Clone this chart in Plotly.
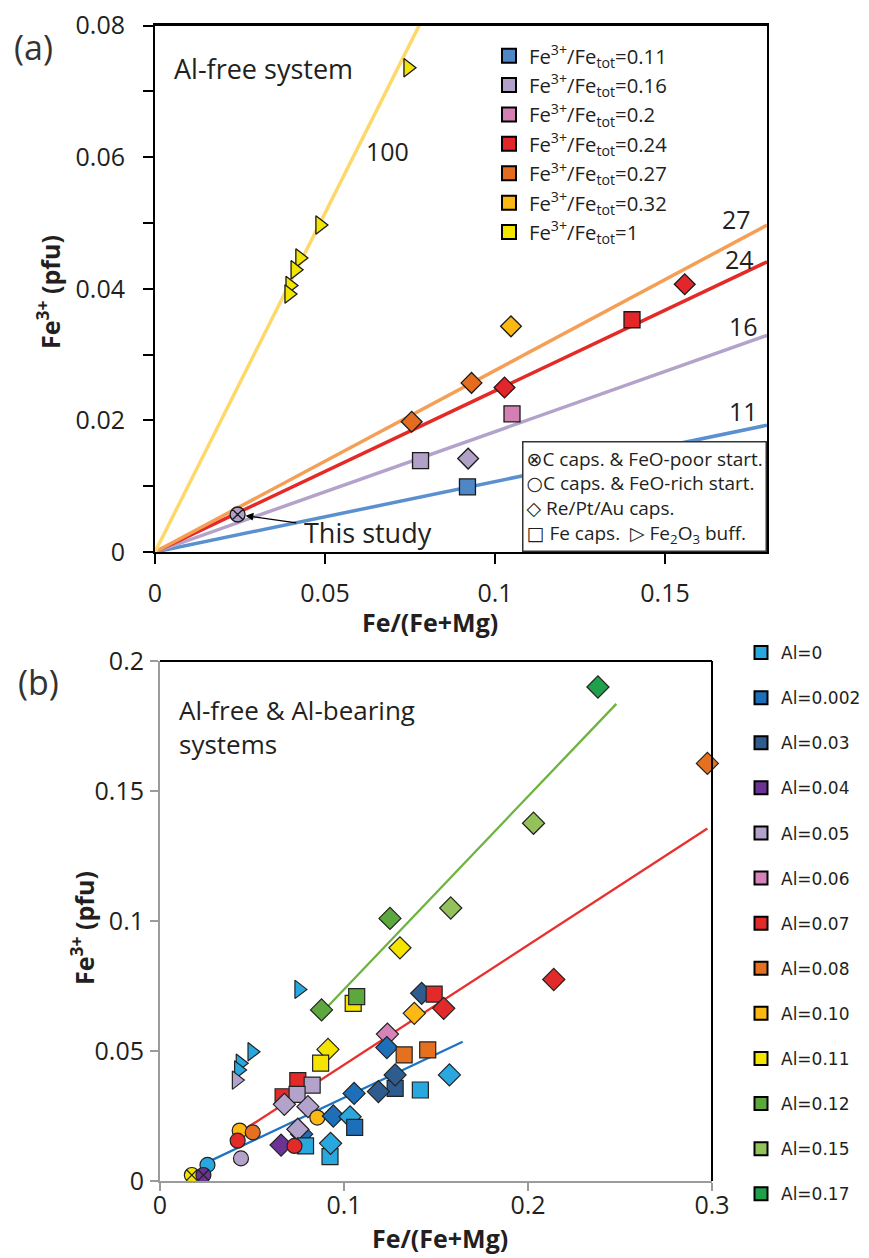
import plotly.graph_objects as go

# page is 869x1258; the html body adds an 8px margin, so the figure is 861x1250
OFF = 8
W, H = 869 - OFF, 1258 - OFF

# ---------------- Panel (a) data ----------------
a_ratio_labels = ["0.11", "0.16", "0.2", "0.24", "0.27", "0.32", "1"]
a_colors = ["#4F86C6", "#B1A0C7", "#D47FB4", "#E3262A", "#E46C1F", "#FBB714", "#F2E600"]

a_line_slopes = [0.107, 0.183, 0.245, 0.276, 1.03]
a_line_colors = ["#5A8FD0", "#B3A3CA", "#E42A26", "#F59E55", "#FDD86A"]
a_line_labels = ["11", "16", "24", "27", "100"]
a_x_max = 0.18

a_x = [0.0919, 0.0781, 0.0921, 0.0243, 0.105, 0.1028, 0.1403, 0.1558, 0.0755, 0.0931, 0.1047,
       0.0744, 0.0485, 0.0426, 0.0412, 0.0397, 0.0394]
a_y = [0.0099, 0.0139, 0.0142, 0.0057, 0.0210, 0.0250, 0.0353, 0.0407, 0.0198, 0.0257, 0.0343,
       0.0736, 0.0497, 0.0447, 0.0429, 0.0405, 0.0392]
a_idx = [0, 1, 1, 1, 2, 3, 3, 3, 4, 4, 5, 6, 6, 6, 6, 6, 6]
a_sym = ["square", "square", "diamond", "circle-x", "square", "diamond", "square", "diamond",
         "diamond", "diamond", "diamond",
         "triangle-right", "triangle-right", "triangle-right", "triangle-right",
         "triangle-right", "triangle-right"]

# ---------------- Panel (b) data ----------------
b_al_labels = ["0", "0.002", "0.03", "0.04", "0.05", "0.06", "0.07", "0.08", "0.10", "0.11",
               "0.12", "0.15", "0.17"]
b_colors = ["#29A8E0", "#1C6FB8", "#2E5C8F", "#6B3494", "#B3A3CB", "#D583B9", "#E32A2A",
            "#E5701F", "#FDB813", "#F5E400", "#5DA83E", "#93C25A", "#20A04A"]

b_x = [0.0755, 0.0878, 0.1050, 0.1069, 0.1250, 0.1580, 0.1304, 0.1422, 0.1490, 0.1542,
       0.1382, 0.1236, 0.1233, 0.1327, 0.1455, 0.0500, 0.0436, 0.0427, 0.0415, 0.0913,
       0.0873, 0.1573, 0.1278, 0.1278, 0.1415, 0.1187, 0.1055, 0.0749, 0.0827, 0.0669,
       0.0745, 0.0676, 0.0804, 0.0855, 0.0942, 0.1033, 0.1058, 0.0770, 0.0749, 0.0658,
       0.0791, 0.0731, 0.0924, 0.0927, 0.0433, 0.0504, 0.0422, 0.0440, 0.0258, 0.0173,
       0.0236, 0.2380, 0.2975, 0.2030, 0.2140]
b_y = [0.0737, 0.0658, 0.0683, 0.0709, 0.1010, 0.1050, 0.0897, 0.0722, 0.0719, 0.0664,
       0.0645, 0.0565, 0.0513, 0.0485, 0.0504, 0.0497, 0.0453, 0.0427, 0.0388, 0.0506,
       0.0453, 0.0408, 0.0356, 0.0408, 0.0350, 0.0344, 0.0337, 0.0386, 0.0369, 0.0324,
       0.0333, 0.0295, 0.0286, 0.0244, 0.0250, 0.0247, 0.0206, 0.0180, 0.0199, 0.0138,
       0.0135, 0.0135, 0.0094, 0.0145, 0.0194, 0.0187, 0.0155, 0.0087, 0.0062, 0.0023,
       0.0023, 0.1900, 0.1606, 0.1376, 0.0775]
b_idx = [0, 10, 9, 10, 10, 11, 9, 2, 6, 6,
         8, 5, 1, 7, 7, 0, 0, 0, 4, 9,
         9, 0, 2, 2, 0, 2, 1, 6, 4, 6,
         4, 4, 4, 8, 1, 0, 1, 1, 4, 3,
         0, 6, 0, 0, 8, 7, 6, 4, 0, 9,
         3, 12, 7, 11, 6]
b_sym = ["triangle-right", "diamond", "square", "square", "diamond", "diamond", "diamond",
         "diamond", "square", "diamond",
         "diamond", "diamond", "diamond", "square", "square", "triangle-right",
         "triangle-right", "triangle-right", "triangle-right", "diamond",
         "square", "diamond", "square", "diamond", "square", "diamond", "diamond", "square",
         "square", "square",
         "square", "diamond", "diamond", "circle", "diamond", "diamond", "square", "diamond",
         "diamond", "diamond",
         "square", "circle", "square", "diamond", "circle", "circle", "circle", "circle",
         "circle", "circle-x",
         "circle-x", "diamond", "diamond", "diamond", "diamond"]

# regression lines in (b): slope, intercept, x-start, x-end
b_fit_slope = [0.742, 0.46, 0.334]
b_fit_icpt = [-0.0005, -0.0013, -0.0014]
b_fit_x0 = [0.0909, 0.0427, 0.0245]
b_fit_x1 = [0.248, 0.2975, 0.1645]
b_fit_colors = ["#6DB33F", "#E8312F", "#1F73C0"]


# ---------------- helpers (page pixels -> paper fraction) ----------------
def pxx(p):
    return (p - OFF) / W


def pxy(p):
    return 1 - (p - OFF) / H


FONT = "Open Sans"
TXT = "#231F20"

SIZE_A = {"square": 16, "diamond": 16, "circle-x": 15, "triangle-right": 16}
SIZE_B = {"square": 16, "diamond": 17, "circle": 15, "circle-x": 15, "triangle-right": 16}

fig = go.Figure()

# Panel (a) lines
for s, c in zip(a_line_slopes, a_line_colors):
    fig.add_trace(go.Scatter(x=[0, a_x_max], y=[0, s * a_x_max], mode="lines",
                             line=dict(color=c, width=3.5), showlegend=False,
                             hoverinfo="skip", xaxis="x", yaxis="y"))

# Panel (a) points
fig.add_trace(go.Scatter(
    x=a_x, y=a_y, mode="markers", showlegend=False, xaxis="x", yaxis="y",
    marker=dict(color=[a_colors[i] for i in a_idx], symbol=a_sym, opacity=1,
                size=[SIZE_A[s] for s in a_sym],
                line=dict(color="#1a1a1a", width=1.3)),
    cliponaxis=False))

# Panel (a) legend entries
for lab, c in zip(a_ratio_labels, a_colors):
    fig.add_trace(go.Scatter(
        x=[None], y=[None], mode="markers", xaxis="x", yaxis="y",
        name="Fe<sup>3+</sup>/Fe<sub>tot</sub>=" + lab, legend="legend",
        legendgroup="a" + lab,
        marker=dict(color=c, symbol="square", size=14, line=dict(color="black", width=2))))

# Panel (b) regression lines
for m, b0, x0, x1, c in zip(b_fit_slope, b_fit_icpt, b_fit_x0, b_fit_x1, b_fit_colors):
    fig.add_trace(go.Scatter(x=[x0, x1], y=[m * x0 + b0, m * x1 + b0], mode="lines",
                             line=dict(color=c, width=2.3), showlegend=False,
                             hoverinfo="skip", xaxis="x2", yaxis="y2"))

# Panel (b) points
fig.add_trace(go.Scatter(
    x=b_x, y=b_y, mode="markers", showlegend=False, xaxis="x2", yaxis="y2",
    marker=dict(color=[b_colors[i] for i in b_idx], symbol=b_sym, opacity=1,
                size=[SIZE_B[s] for s in b_sym],
                line=dict(color="#222222", width=1.2)),
    cliponaxis=False))

# Panel (b) legend entries
for lab, c in zip(b_al_labels, b_colors):
    fig.add_trace(go.Scatter(
        x=[None], y=[None], mode="markers", xaxis="x2", yaxis="y2",
        name="Al=" + lab, legend="legend2", legendgroup="b" + lab,
        marker=dict(color=c, symbol="square", size=13, line=dict(color="black", width=2))))

tickfont = dict(family=FONT, size=25, color=TXT)

fig.update_layout(
    width=W, height=H, margin=dict(l=0, r=0, t=0, b=0, autoexpand=False),
    paper_bgcolor="white", plot_bgcolor="white",
    showlegend=True,
    xaxis=dict(domain=[pxx(155), pxx(767)], anchor="y", range=[0, 0.18],
               tick0=0, dtick=0.05, showgrid=False, zeroline=False,
               showline=True, linecolor="black", linewidth=2, mirror=True,
               ticks="outside", ticklen=10, tickwidth=2, tickcolor="black",
               tickfont=tickfont, ticklabelstandoff=8, ticklabeloverflow="allow"),
    yaxis=dict(domain=[pxy(552), pxy(25)], anchor="x", range=[0, 0.0801],
               tickvals=[0, 0.02, 0.04, 0.06, 0.08],
               ticktext=["0", "0.02", "0.04", "0.06", "0.08"],
               showgrid=False, zeroline=False,
               showline=True, linecolor="black", linewidth=2, mirror=True,
               ticks="outside", ticklen=10, tickwidth=2, tickcolor="black",
               minor=dict(tickvals=[0.01, 0.03, 0.05, 0.07], ticks="outside", ticklen=10,
                          tickwidth=2, tickcolor="black", showgrid=False),
               tickfont=tickfont, ticklabelstandoff=13, ticklabeloverflow="allow"),
    xaxis2=dict(domain=[pxx(160), pxx(712)], anchor="y2", range=[0, 0.3],
                tick0=0, dtick=0.1, showgrid=False, zeroline=False,
                showline=True, linecolor="#9B9B9B", linewidth=2,
                ticks="outside", ticklen=8, tickwidth=2, tickcolor="#9B9B9B",
                tickfont=tickfont, ticklabelstandoff=-7, ticklabeloverflow="allow"),
    yaxis2=dict(domain=[pxy(1181), pxy(661)], anchor="x2", range=[0, 0.2],
                tick0=0, dtick=0.05, showgrid=False, zeroline=False,
                showline=True, linecolor="#9B9B9B", linewidth=2,
                ticks="outside", ticklen=8, tickwidth=2, tickcolor="#9B9B9B",
                tickfont=tickfont, ticklabelstandoff=1, ticklabeloverflow="allow"),
    legend=dict(x=pxx(489), y=pxy(36), xanchor="left", yanchor="top",
                font=dict(family=FONT, size=20.3, color=TXT),
                bgcolor="rgba(0,0,0,0)", traceorder="grouped", tracegroupgap=0,
                itemwidth=30),
    legend2=dict(x=pxx(741), y=pxy(635), xanchor="left", yanchor="top",
                 font=dict(family="DejaVu Sans", size=17, color=TXT),
                 bgcolor="rgba(0,0,0,0)", traceorder="grouped", tracegroupgap=20,
                 itemwidth=30),
)

shapes = [
    dict(type="line", xref="x domain", yref="y domain", x0=0, x1=1, y0=1, y1=1,
         line=dict(color="black", width=2)),
    dict(type="line", xref="x2 domain", yref="y2 domain", x0=0, x1=1, y0=1, y1=1,
         line=dict(color="black", width=2)),
    dict(type="line", xref="x2 domain", yref="y2 domain", x0=1, x1=1, y0=0, y1=1,
         line=dict(color="black", width=2)),
]
fig.update_layout(shapes=shapes)


def note(text, x, y, xref="paper", yref="paper", size=25, xanchor="center", **kw):
    d = dict(text=text, xref=xref, yref=yref, x=x, y=y, showarrow=False,
             xanchor=xanchor, yanchor="middle", font=dict(family=FONT, size=size, color=TXT))
    d.update(kw)
    return d


def glyph(ch):
    return "<span style=\"font-family:'DejaVu Sans'\">" + ch + "</span>"


ann = []
# panel labels
ann.append(note("(a)", pxx(33), pxy(47), font=dict(family=FONT, size=34, color="#333")))
ann.append(note("(b)", pxx(38), pxy(682), font=dict(family=FONT, size=34, color="#333")))
# axis titles
for (cx, cy) in [(48, 292), (82, 928)]:
    ann.append(note("<b>Fe<sup>3+</sup> (pfu)</b>", pxx(cx), pxy(cy), textangle=-90))
for (cx, cy) in [(430, 622), (440, 1238)]:
    ann.append(note("<b>Fe/(Fe+Mg)</b>", pxx(cx), pxy(cy)))
# panel texts
ann.append(note("Al-free system", 0.005, 0.0735, "x", "y", size=27, xanchor="left"))
ann.append(note("Al-free &amp; Al-bearing<br>systems", 0.0093, 0.1745, "x2", "y2", size=26,
                xanchor="left", align="left"))
# line labels (a)
line_label_pos = [(0.173, 0.0215), (0.173, 0.0344), (0.172, 0.0445), (0.171, 0.0506),
                  (0.0685, 0.0609)]
for lab, (lx, ly) in zip(a_line_labels, line_label_pos):
    ann.append(note(lab, lx, ly, "x", "y", size=25))
# This study
ann.append(note("This study", 0.0432, 0.0029, "x", "y", size=27, xanchor="left"))
ann.append(dict(text="", xref="x", yref="y", x=a_x[3], y=a_y[3], axref="x", ayref="y",
                ax=0.042, ay=0.0044, showarrow=True, arrowhead=2, arrowsize=1.2,
                arrowwidth=1.3, arrowcolor="black", standoff=8))
# symbol key box
key_text = (glyph("⊗") + "C caps. &amp; FeO-poor start.<br>"
            + glyph("○") + "C caps. &amp; FeO-rich start.<br>"
            + glyph("◇") + " Re/Pt/Au caps.<br>"
            + glyph("□") + " Fe caps.  " + glyph("▷") + " Fe<sub>2</sub>O<sub>3</sub> buff.")
ann.append(dict(
    text=key_text,
    xref="x", yref="y", x=0.18, y=0, xanchor="right", yanchor="bottom",
    align="left", showarrow=False, bgcolor="white", bordercolor="#333", borderwidth=1.5,
    borderpad=3, font=dict(family=FONT, size=19, color=TXT)))

fig.update_layout(annotations=ann)

fig.write_html("out.html")
